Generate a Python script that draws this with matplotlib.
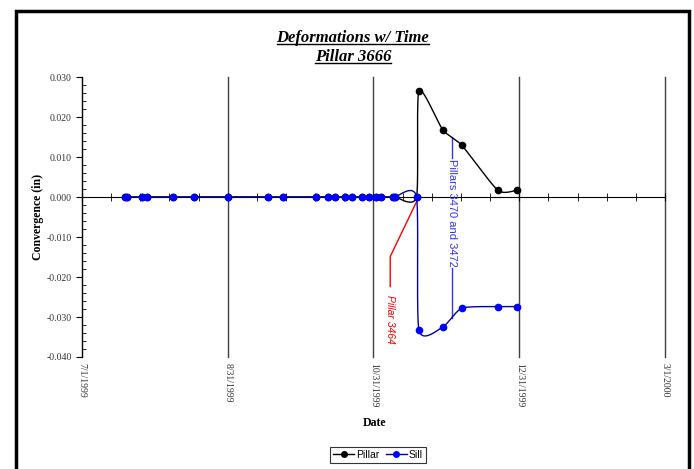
import matplotlib
matplotlib.use('Agg')
import matplotlib.pyplot as plt
import matplotlib.dates as mdates
import numpy as np
from datetime import datetime
from matplotlib.lines import Line2D
from matplotlib.patches import Rectangle

plt.rcParams['axes.unicode_minus'] = False

# readings (dates are month/day/year)
dates = ['7/19/1999', '7/20/1999', '7/26/1999', '7/28/1999', '8/8/1999', '8/17/1999',
         '8/31/1999', '9/17/1999', '9/23/1999', '10/7/1999', '10/12/1999', '10/15/1999',
         '10/19/1999', '10/22/1999', '10/26/1999', '10/29/1999', '11/1/1999', '11/3/1999',
         '11/8/1999', '11/9/1999', '11/18/1999', '11/19/1999', '11/29/1999', '12/7/1999',
         '12/22/1999', '12/30/1999']
pillar = [0.0] * 21 + [0.0265, 0.0168, 0.0129, 0.0017, 0.0017]
sill = [0.0] * 21 + [-0.0332, -0.0325, -0.0278, -0.0274, -0.0274]

tick_dates = ['7/1/1999', '8/31/1999', '10/31/1999', '12/31/1999', '3/1/2000']
y_ticks = [-0.04, -0.03, -0.02, -0.01, 0.0, 0.01, 0.02, 0.03]


def to_num(strs):
    return mdates.date2num([datetime.strptime(s, '%m/%d/%Y') for s in strs])


x = to_num(dates)
xt = to_num(tick_dates)

fig = plt.figure(figsize=(6.94, 4.69), dpi=100)
ax = fig.add_axes([82 / 694, 1 - 357 / 469, 583 / 694, 280 / 469])
ax.set_xlim(xt[0], xt[-1])
ax.set_ylim(-0.04, 0.03)


def smooth(ax, xs, ys, k=0.11, n=40):
    # excel-like smoothed line, bezier through the points in screen space
    pts = ax.transData.transform(np.column_stack([xs, ys]))
    p = np.vstack([pts[0], pts, pts[-1]])
    t = np.linspace(0, 1, n)[:, None]
    out = []
    for i in range(1, len(p) - 2):
        p0, p1, p2, p3 = p[i - 1], p[i], p[i + 1], p[i + 2]
        c1 = p1 + (p2 - p0) * k
        c2 = p2 - (p3 - p1) * k
        out.append((1 - t) ** 3 * p1 + 3 * (1 - t) ** 2 * t * c1
                   + 3 * (1 - t) * t ** 2 * c2 + t ** 3 * p2)
    curve = ax.transData.inverted().transform(np.vstack(out))
    return curve[:, 0], curve[:, 1]


cx, cy = smooth(ax, x, pillar)
ax.plot(cx, cy, color='black', lw=1, zorder=3)
ax.plot(x, pillar, 'o', color='black', ms=4.5, zorder=4)
cx, cy = smooth(ax, x, sill)
ax.plot(cx, cy, color='#0000aa', lw=1, zorder=3)
ax.plot(x, sill, 'o', color='#0000ff', ms=4.5, zorder=4)

# leader lines and labels
red_x = to_num(['11/18/1999', '11/7/1999', '11/7/1999'])
ax.plot(red_x, [-0.0012, -0.0149, -0.0224], color='red', lw=1, zorder=2)
ax.text(red_x[1], -0.0305, 'Pillar 3464', color='red', rotation=-90, style='italic',
        family='Liberation Sans', fontsize=7.5, ha='center', va='center')
bx = to_num(['12/3/1999'])[0]
ax.plot([bx, bx], [0.0151, 0.0097], color='#3333ff', lw=1, zorder=2)
ax.plot([bx, bx], [-0.0178, -0.0302], color='#3333ff', lw=1, zorder=2)
ax.text(bx, -0.0040, 'Pillars 3470 and 3472', color='#3333ff', rotation=-90,
        family='Liberation Sans', fontsize=8, ha='center', va='center')

# axes styling
for s in ['top', 'right']:
    ax.spines[s].set_visible(False)
ax.spines['bottom'].set_position(('data', 0))
ax.spines['bottom'].set_color('black')
ax.set_xticks(xt)
ax.set_xticks(np.linspace(xt[0], xt[-1], 21), minor=True)
ax.tick_params(axis='x', which='both', direction='inout', length=6, labelbottom=False)
ax.grid(axis='x', which='major', color='#404040', lw=1)
ax.set_axisbelow(True)
for gl in ax.get_xgridlines():
    gl.set_clip_on(False)

ax.set_yticks(y_ticks)
ax.set_yticks(np.arange(-0.04, 0.0301, 0.002), minor=True)
ax.yaxis.set_major_formatter(matplotlib.ticker.FormatStrFormatter('%.3f'))
ax.tick_params(axis='y', which='major', direction='out', length=4, labelsize=7,
               labelcolor='#333333')
ax.tick_params(axis='y', which='minor', direction='in', length=3)
for lab in ax.get_yticklabels():
    lab.set_family('Liberation Serif')

sec = ax.secondary_xaxis(0.0)
sec.set_xticks(xt, labels=tick_dates)
sec.xaxis.set_minor_locator(matplotlib.ticker.NullLocator())
sec.spines['bottom'].set_visible(False)
sec.tick_params(length=0, pad=4, labelsize=7, labelcolor='#333333', labelrotation=-90)
for lab in sec.get_xticklabels():
    lab.set_family('Liberation Serif')
    lab.set_va('top')

fig.text(38 / 694, 1 - 217 / 469, 'Convergence (in)', rotation=90, ha='center', va='center',
         family='Liberation Serif', weight='bold', fontsize=8.5)
fig.text(374 / 694, 1 - 423 / 469, 'Date', ha='center', va='center',
         family='Liberation Serif', weight='bold', fontsize=8.5)

# title with underline
renderer = fig.canvas.get_renderer()
for txt, base in [('Deformations w/ Time', 42), ('Pillar 3666', 61)]:
    t = fig.text(353 / 694, 1 - base / 469, txt, ha='center', va='baseline',
                 family='Liberation Serif', weight='bold', style='italic', fontsize=12)
    bb = t.get_window_extent(renderer)
    yy = 1 - (base + 2) / 469
    fig.add_artist(Line2D([bb.x0 / 694, bb.x1 / 694], [yy, yy], color='black', lw=1))

handles = [Line2D([], [], color='black', marker='o', ms=4, lw=1),
           Line2D([], [], color='#0000aa', marker='o', mfc='#0000ff', mec='#0000ff', ms=4, lw=1)]
leg = fig.legend(handles, ['Pillar', 'Sill'], loc='center', bbox_to_anchor=(378 / 694, 1 - 455 / 469),
                 ncol=2, frameon=True, fancybox=False, edgecolor='black',
                 prop={'family': 'Liberation Sans', 'size': 7.5}, handlelength=2,
                 handletextpad=0.2, columnspacing=0.6, borderpad=0.3, borderaxespad=0)
leg.get_frame().set_linewidth(0.8)

fig.add_artist(Rectangle((16 / 694, -0.02), 673 / 694, 1 - 11 / 469 + 0.02, fill=False,
                         edgecolor='black', lw=2.5, transform=fig.transFigure))

fig.savefig('out.png', dpi=100)
